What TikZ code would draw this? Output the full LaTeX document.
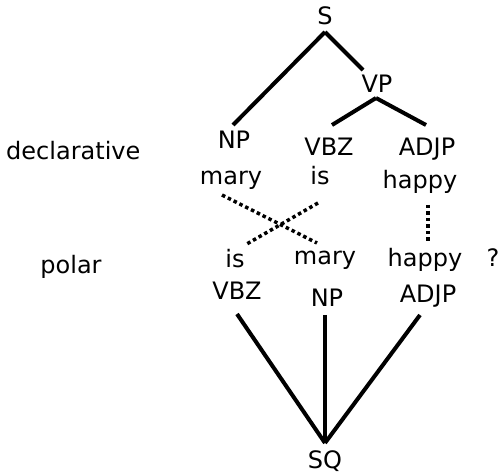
\documentclass[tikz,border=0pt]{standalone}
\usepackage{fontspec}
\setmainfont{DejaVu Sans}
\begin{document}
\begin{tikzpicture}[x=1pt,y=-1pt,
  lab/.style={anchor=base,inner sep=0pt,font=\fontsize{24}{28}\selectfont},
  edge/.style={line width=4pt},
  dot/.style={line width=3.5pt,dash pattern=on 3.5pt off 3pt}]
\useasboundingbox (0,0) rectangle (501,473);
% labels
\node[lab,anchor=base west] (decl) at (6,160) {declarative};
\node[lab] (polar) at (71,274) {polar};
% top tree
\node[lab] (S) at (325,25) {S};
\node[lab] (VP) at (377,93) {VP};
\node[lab] (NPa) at (234,149) {NP};
\node[lab] (VBZa) at (329,156) {VBZ};
\node[lab] (ADJPa) at (427,156) {ADJP};
\node[lab] (marya) at (231,185) {mary};
\node[lab] (isa) at (320,185) {is};
\node[lab] (happya) at (420,189) {happy};
% bottom tree
\node[lab] (isb) at (235,268) {is};
\node[lab] (maryb) at (325,265) {mary};
\node[lab] (happyb) at (425,267) {happy};
\node[lab] (q) at (493,267) {?};
\node[lab] (VBZb) at (237,300) {VBZ};
\node[lab] (NPb) at (327,307) {NP};
\node[lab] (ADJPb) at (428,302) {ADJP};
\node[lab] (SQ) at (325,468) {SQ};
% edges
\draw[edge] ([yshift=-7pt]S.base) -- ([xshift=-1pt,yshift=24pt]NPa.base);
\draw[edge] ([yshift=-7pt]S.base) -- ([xshift=-14pt,yshift=23pt]VP.base);
\draw[edge] ([xshift=-1pt,yshift=-5pt]VP.base) -- ([xshift=3pt,yshift=31pt]VBZa.base);
\draw[edge] ([xshift=-1pt,yshift=-5pt]VP.base) -- ([xshift=-1pt,yshift=31pt]ADJPa.base);
\draw[dot] ([xshift=-9pt,yshift=-10pt]marya.base) -- ([xshift=-8pt,yshift=22pt]maryb.base);
\draw[dot] ([xshift=-2pt,yshift=-18pt]isa.base) -- ([xshift=10pt,yshift=23pt]isb.base);
\draw[dot] ([xshift=8pt,yshift=-16pt]happya.base) -- ([xshift=3pt,yshift=25pt]happyb.base);
\draw[edge] ([yshift=-14pt]VBZb.base) -- ([yshift=25pt]SQ.base);
\draw[edge] ([xshift=-2pt,yshift=-8pt]NPb.base) -- ([yshift=25pt]SQ.base);
\draw[edge] ([xshift=-8pt,yshift=-13pt]ADJPb.base) -- ([yshift=25pt]SQ.base);
\end{tikzpicture}
\end{document}
